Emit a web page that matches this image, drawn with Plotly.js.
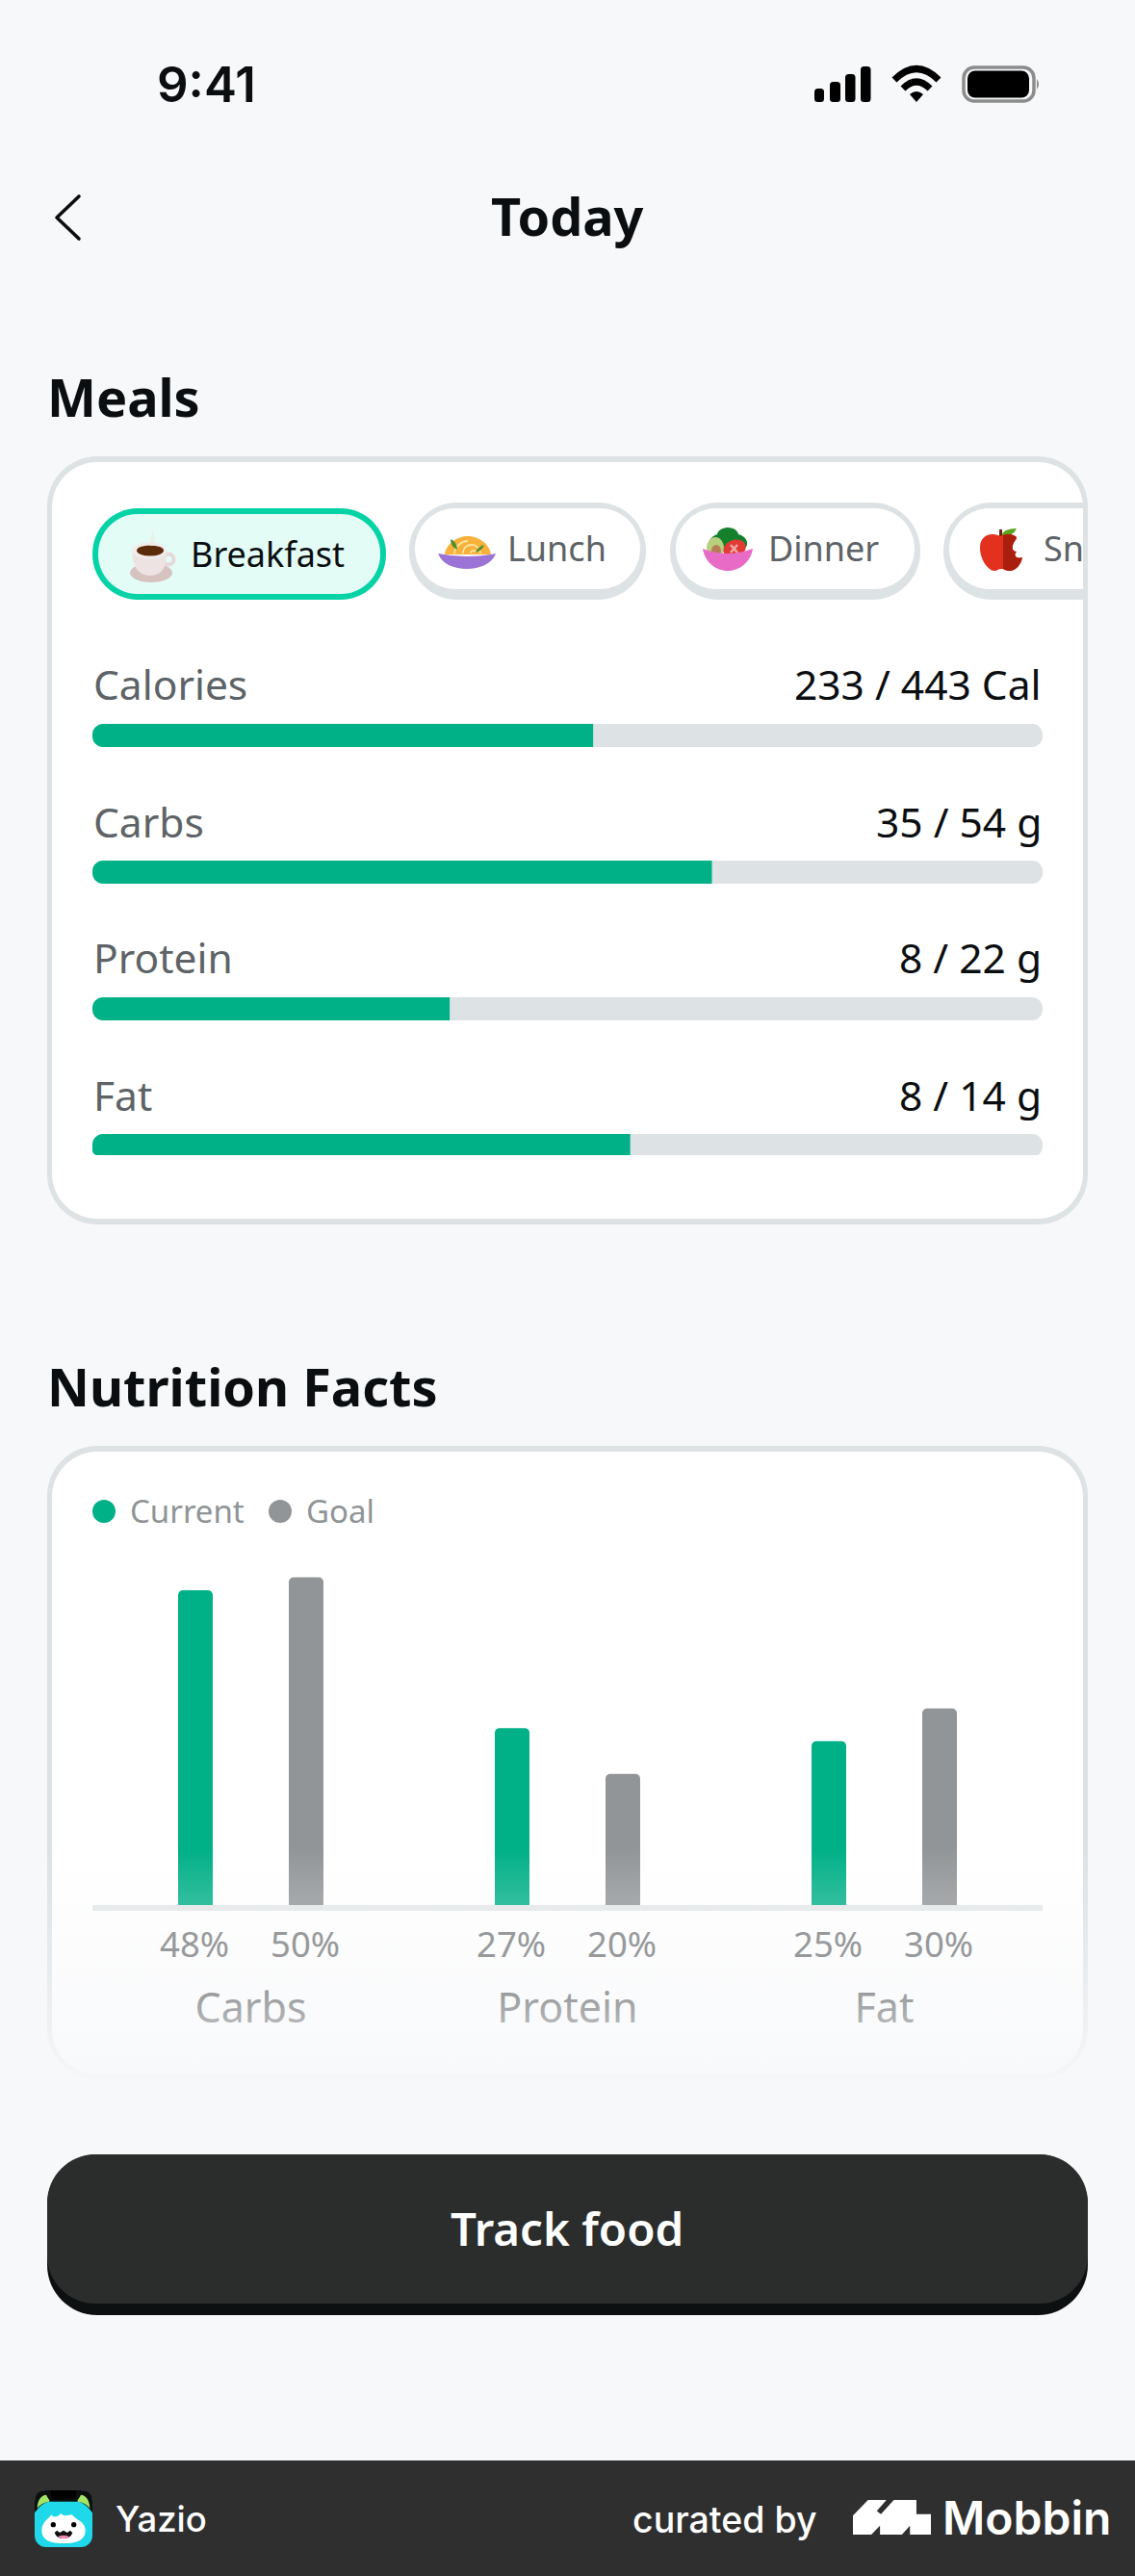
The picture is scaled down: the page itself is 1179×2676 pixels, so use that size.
<!DOCTYPE html>
<html><head><meta charset="utf-8">
<script src="https://cdn.plot.ly/plotly-3.0.1.min.js"></script>
<style>html,body{margin:0;padding:0;background:#f7f8fa}#c{width:1179px;height:2676px}</style>
</head><body><div id="c"></div>
<script>
// ---------- data ----------
const mealTabs = ['Breakfast', 'Lunch', 'Dinner', 'Sn'];
const mealRows = ['Calories', 'Carbs', 'Protein', 'Fat'];
const mealAmounts = ['233 / 443 Cal', '35 / 54 g', '8 / 22 g', '8 / 14 g'];
const mealProgress = [52.7, 65.2, 37.6, 56.6];
const mealTrack = [100, 100, 100, 100];
const nutritionCats = ['Carbs', 'Protein', 'Fat'];
const nutritionCurrent = [48, 27, 25];
const nutritionGoal = [50, 20, 30];
const seriesNames = ['Current', 'Goal'];

// ---------- page helpers ----------
const W = 1179, H = 2676;
const PAGE = '#f7f8fa', GREEN = '#00b087', GREY = '#929597', TRACK = '#dde2e4', INK = '#0b0e10', MUTED = '#5d6366';
const px = x => x / W, py = y => 1 - y / H;
const SANS = '"Noto Sans", sans-serif', INTER = 'Inter, sans-serif';
const p = (x, y) => px(x).toFixed(6) + ',' + py(y).toFixed(6);
const K = 0.45;

function rr(x0, y0, x1, y1, r, fill, layer) {
  const c = r * K;
  const path = `M${p(x0 + r, y0)} L${p(x1 - r, y0)} C${p(x1 - c, y0)} ${p(x1, y0 + c)} ${p(x1, y0 + r)} L${p(x1, y1 - r)} C${p(x1, y1 - c)} ${p(x1 - c, y1)} ${p(x1 - r, y1)} L${p(x0 + r, y1)} C${p(x0 + c, y1)} ${p(x0, y1 - c)} ${p(x0, y1 - r)} L${p(x0, y0 + r)} C${p(x0, y0 + c)} ${p(x0 + c, y0)} ${p(x0 + r, y0)} Z`;
  return {type: 'path', xref: 'paper', yref: 'paper', path, fillcolor: fill, line: {width: 0}, layer: layer || 'below'};
}
function leftPill(x0, y0, x1, y1, r, fill) {
  const c = r * K;
  const path = `M${p(x0 + r, y0)} L${p(x1, y0)} L${p(x1, y1)} L${p(x0 + r, y1)} C${p(x0 + c, y1)} ${p(x0, y1 - c)} ${p(x0, y1 - r)} L${p(x0, y0 + r)} C${p(x0, y0 + c)} ${p(x0 + c, y0)} ${p(x0 + r, y0)} Z`;
  return {type: 'path', xref: 'paper', yref: 'paper', path, fillcolor: fill, line: {width: 0}, layer: 'below'};
}
function corner(x, y, dy, r) { // white mask that rounds the flat start of a progress bar
  const c = r * K;
  const path = `M${p(x, y)} L${p(x + r, y)} C${p(x + c, y)} ${p(x, y + dy * c)} ${p(x, y + dy * r)} Z`;
  return {type: 'path', xref: 'paper', yref: 'paper', path, fillcolor: '#ffffff', line: {width: 0}, layer: 'above'};
}
function txt(text, x, y, size, color, anchor, weight, family) {
  return {text, xref: 'paper', yref: 'paper', x: px(x), y: py(y), showarrow: false, xanchor: anchor || 'left', yanchor: 'middle',
    borderpad: 0, font: {size, color, family: family || SANS, weight: weight || 400}};
}
function img(svg, x, y, w, h) {
  const doc = `<svg xmlns="http://www.w3.org/2000/svg" viewBox="${svg.vb}" preserveAspectRatio="none" width="${w}" height="${h}">${svg.body}</svg>`;
  return {source: 'data:image/svg+xml;charset=utf-8,' + encodeURIComponent(doc), xref: 'paper', yref: 'paper', x: px(x), y: py(y),
    sizex: w / W, sizey: h / H, xanchor: 'left', yanchor: 'top', sizing: 'stretch', layer: 'above'};
}

// ---------- icons ----------
const statusIcon = {vb: '830 55 270 65', body: `
  <g fill="#000"><rect x="846" y="92" width="10" height="14" rx="3.5"/><rect x="862" y="85" width="11" height="21" rx="3.5"/>
  <rect x="878" y="77" width="10.5" height="29" rx="3.5"/><rect x="894" y="69" width="10.5" height="37" rx="3.5"/></g>
  <g fill="none" stroke="#000" stroke-width="7"><path d="M929 83 Q952 60 975 83"/><path d="M938 92 Q952 78 966 92"/></g>
  <path d="M945 98 Q952 92 959 98 L952 106 Z" fill="#000"/>
  <rect x="1001" y="70" width="73" height="35" rx="11" fill="none" stroke="#8c8c8c" stroke-width="3.5"/>
  <rect x="1005" y="73.5" width="64" height="28" rx="8" fill="#000"/>
  <path d="M1077 82 Q1081 87.5 1077 93 Z" fill="#8c8c8c"/>`};
const chevron = {vb: '55 200 32 52', body: `<path d="M82 204 L59 226 L82 248" fill="none" stroke="${INK}" stroke-width="3.6" stroke-linecap="round" stroke-linejoin="round"/>`};
const coffee = {vb: '130 540 60 70', body: `
  <ellipse cx="157" cy="595" rx="22" ry="10" fill="#d6c3bf"/>
  <circle cx="175" cy="581" r="5.5" fill="none" stroke="#e6d8d8" stroke-width="4"/>
  <path d="M137 572 Q138 598 156 598 Q174 598 173 572 Z" fill="#eee3e3"/>
  <ellipse cx="155" cy="572" rx="18" ry="8.5" fill="#f3ecec"/>
  <ellipse cx="156" cy="572" rx="14" ry="5.5" fill="#5c2c0a"/>
  <path d="M159 549 L161 567 L155 567 Z" fill="#efe9e6" opacity=".7"/>`};
const noodles = {vb: '0 0 60 34', body: `
  <path d="M7 19 C8 8 20 0 31 0 C43 0 54 9 55 19 Z" fill="#f8b13a"/>
  <path d="M17 18 C18 10 25 5 31 5 M26 18 C26 12 30 9 35 9 C40 9 44 13 44 18 M34 18 C34 15 37 14 39 16" fill="none" stroke="#fde6a0" stroke-width="1.8"/>
  <path d="M13 3 Q20 6 20 14 Q13 11 13 3 Z M48 9 Q46 15 39 17 Q41 11 48 9 Z" fill="#4f8f2a"/>
  <path d="M0 18 Q30 24 60 18 C56 29 43 34 30 34 C17 34 4 29 0 18 Z" fill="#9b73d6"/>`};
const salad = {vb: '0 0 52 45', body: `
  <path d="M8 20 C4 12 12 8 15 7 C16 1 24 0 26 0 C30 0 36 2 37 7 C42 8 50 14 44 22 Z" fill="#15802c"/>
  <ellipse cx="13" cy="21" rx="9" ry="11" fill="#b8cf7e"/><ellipse cx="14" cy="24" rx="5" ry="6" fill="#b77d57"/>
  <ellipse cx="33" cy="22" rx="12" ry="9" fill="#e23a35" transform="rotate(-20 33 22)"/>
  <path d="M29 18 L36 26 M36 18 L29 26" stroke="#f5a5a0" stroke-width="2.6"/>
  <path d="M0 22 Q26 32 52 22 C50 36 38 45 26 45 C14 45 2 36 0 22 Z" fill="#e86bc6"/>`};
const apple = {vb: '0 0 45 45', body: `
  <path d="M22 9 Q24 1 38 1 Q35 9 22 9 Z" fill="#5aa51f"/><rect x="20" y="2" width="3" height="8" fill="#6b2413"/>
  <path d="M21 9 C10 4 0 9 0 21 C0 34 9 45 15 45 C18 45 19 43 22 43 C25 43 27 45 31 45 C37 45 43 38 44 31 C38 33 34 29 38 25 C34 25 32 21 35 16 C37 13 38 12 38 10 C32 5 26 7 21 9 Z" fill="#e2311f"/>
  <path d="M24 8 C30 6 34 7 38 10 C38 12 35 14 34 19 C33 23 35 25 38 25 C34 29 38 33 44 31 C43 38 37 45 31 45 C27 45 26 44 24 43 Z" fill="#a91e0c"/>`};
const yazioIcon = {vb: '0 0 180 177', body: `
  <rect width="180" height="177" rx="36" fill="#1fd8ea"/>
  <path d="M0 70 L0 36 Q0 0 36 0 L144 0 Q180 0 180 36 L180 70 Q160 40 135 35 L45 35 Q20 40 0 70 Z" fill="#0c0f0d"/>
  <path d="M8 56 C8 30 22 14 36 14 C44 30 50 32 44 36 C28 38 16 46 8 56 Z M172 56 C172 30 158 14 144 14 C136 30 130 32 136 36 C152 38 164 46 172 56 Z" fill="#a5e566"/>
  <path d="M50 0 L130 0 L128 28 L52 28 Z" fill="#000"/>
  <path d="M22 125 C22 100 40 92 52 76 C60 88 72 82 82 72 C92 84 104 76 116 76 C128 92 158 98 158 125 C158 155 132 165 90 165 C48 165 22 155 22 125 Z" fill="#fff"/>
  <circle cx="58" cy="107" r="8" fill="#000"/><circle cx="122" cy="107" r="8" fill="#000"/>
  <path d="M62 132 L70 125 L78 132 L90 125 L102 132 L110 125 L118 132 Q112 150 90 150 Q68 150 62 132 Z" fill="#111"/>
  <ellipse cx="90" cy="145" rx="16" ry="5" fill="#f58bb5"/>`};
const mobbinMark = {vb: '48 50 242 110', body: `<path d="M48 100 L95 50 L152 50 L122 85 L135 95 L175 50 L245 50 L245 95 L290 95 L290 160 L225 160 L225 132 L200 160 L132 160 L132 132 L105 160 L48 160 Z" fill="#fff"/>`};
const fadeStops = [[0, 0], [0.207, 0.2], [0.59, 0.6], [0.84, 0.9], [1, 1]];
const fade = {vb: '0 0 100 100', body: `<defs><linearGradient id="f" x1="0" y1="0" x2="0" y2="1">` +
  fadeStops.map(s => `<stop offset="${s[0]}" stop-color="${PAGE}" stop-opacity="${s[1]}"/>`).join('') +
  `</linearGradient></defs><rect width="100" height="100" fill="url(#f)"/>`};

// ---------- traces ----------
const traces = [
  {type: 'bar', orientation: 'h', y: mealRows, x: mealTrack, xaxis: 'x', yaxis: 'y', marker: {color: TRACK, cornerradius: 11}, hoverinfo: 'skip', showlegend: false},
  {type: 'bar', orientation: 'h', y: mealRows, x: mealProgress, xaxis: 'x', yaxis: 'y', marker: {color: GREEN, cornerradius: 11}, hoverinfo: 'skip', showlegend: false},
  {type: 'bar', name: seriesNames[0], x: nutritionCats, y: nutritionCurrent, xaxis: 'x2', yaxis: 'y2', marker: {color: GREEN, cornerradius: 5}, hoverinfo: 'skip', showlegend: false},
  {type: 'bar', name: seriesNames[1], x: nutritionCats, y: nutritionGoal, xaxis: 'x2', yaxis: 'y2', marker: {color: GREY, cornerradius: 5}, hoverinfo: 'skip', showlegend: false}
];

// ---------- shapes ----------
const shapes = [
  rr(49, 474, 1130, 1272, 52, TRACK), rr(54, 480, 1125, 1266, 47, '#ffffff'),
  rr(49, 1502, 1130, 2160, 52, TRACK), rr(54, 1508, 1125, 2155, 47, '#ffffff'),
  rr(96, 528, 401, 623, 47, '#05d3a6'), rr(102, 534, 395, 617, 41, '#e3fcf6'),
  rr(425, 522, 671, 623, 50, TRACK), rr(431, 528, 665, 612, 42, '#ffffff'),
  rr(696, 522, 956, 623, 50, TRACK), rr(702, 528, 950, 612, 42, '#ffffff'),
  leftPill(980, 522, 1125, 623, 50, TRACK), leftPill(986, 528, 1125, 612, 42, '#ffffff'),
  rr(49, 2238, 1130, 2405, 52, '#0d1010'), rr(49, 2238, 1130, 2393, 50, '#2b2d2d'),
  {type: 'rect', xref: 'paper', yref: 'paper', x0: 0, x1: 1, y0: 0, y1: py(2556), fillcolor: '#2f2f2f', line: {width: 0}, layer: 'below'},
  {type: 'circle', xref: 'paper', yref: 'paper', x0: px(96), x1: px(120), y0: py(1582), y1: py(1558), fillcolor: GREEN, line: {width: 0}, layer: 'below'},
  {type: 'circle', xref: 'paper', yref: 'paper', x0: px(279), x1: px(303), y0: py(1582), y1: py(1558), fillcolor: GREY, line: {width: 0}, layer: 'below'},
  {type: 'rect', xref: 'paper', yref: 'paper', x0: px(96), x1: px(1083), y0: py(1203), y1: py(1200), fillcolor: '#ffffff', line: {width: 0}, layer: 'above'}
];
[752, 894, 1036, 1178].forEach(t => {
  shapes.push(corner(96, t, 1, 11));
  shapes.push(t === 1178 ? corner(96, t + 22, -1, 5) : corner(96, t + 24, -1, 11));
});

// ---------- annotations ----------
const tabX = [197, 526, 797, 1083], tabY = [576, 569, 569, 569], tabColor = [INK, MUTED, MUTED, MUTED];
const rowY = [711, 853, 995, 1137];
const annotations = [
  txt('9:41', 214, 87, 51, INK, 'center', 600, INTER),
  txt('Today', 589, 224, 54, INK, 'center', 700),
  txt('Meals', 48, 412, 54, INK, 'left', 700),
  txt('Nutrition Facts', 48, 1440, 54, INK, 'left', 700),
  txt('Track food', 589, 2314, 47.5, '#ffffff', 'center', 600),
  txt('Yazio', 119, 2617, 36.5, '#ffffff', 'left', 500, INTER),
  txt('curated by', 849, 2617, 37.5, '#ffffff', 'right', 500, INTER),
  txt('Mobbin', 978, 2615, 48, '#ffffff', 'left', 600, INTER),
  txt(seriesNames[0], 134, 1569.5, 33, '#8f9496', 'left'),
  txt(seriesNames[1], 317, 1569.5, 33, '#8f9496', 'left')
];
mealTabs.forEach((t, i) => annotations.push(txt(t, tabX[i], tabY[i], 36, tabColor[i], 'left')));
mealRows.forEach((t, i) => {
  annotations.push(txt(t, 96, rowY[i], 42.5, MUTED, 'left'));
  annotations.push(txt(mealAmounts[i], 1083, rowY[i], 42.5, INK, 'right'));
});
nutritionCats.forEach((c, i) => {
  [[nutritionCurrent, -57.5], [nutritionGoal, 57.5]].forEach(([s, dx]) => {
    annotations.push({text: s[i] + '%', xref: 'x2', yref: 'paper', x: c, y: py(2019), xshift: dx - 1.5, showarrow: false, yanchor: 'middle',
      font: {size: 36.5, color: '#97999b', family: SANS}});
  });
});

// ---------- images ----------
const images = [
  img(statusIcon, 830, 55, 270, 65), img(chevron, 55, 200, 32, 52),
  img(coffee, 130, 540, 60, 70), img(noodles, 455, 557, 60, 34),
  img(salad, 730, 548, 52, 45), img(apple, 1018, 548, 45, 45),
  img(yazioIcon, 36, 2587, 60, 59), img(mobbinMark, 886, 2597, 81, 36),
  img(fade, 0, 1920, 1179, 280)
];

// ---------- layout ----------
const layout = {
  width: W, height: H, margin: {l: 0, r: 0, t: 0, b: 0}, paper_bgcolor: PAGE, plot_bgcolor: 'rgba(0,0,0,0)',
  barmode: 'group', bargap: 0.301, bargroupgap: 0.687, showlegend: false,
  xaxis: {domain: [px(96), px(1083)], range: [0, 100], visible: false, fixedrange: true, anchor: 'y'},
  yaxis: {domain: [py(1261), py(693)], type: 'category', range: [3.5, -0.5], visible: false, fixedrange: true, anchor: 'x'},
  xaxis2: {domain: [px(96), px(1083)], anchor: 'y2', type: 'category', showline: true, linecolor: '#e3e7e8', linewidth: 6,
    showgrid: false, ticks: '', tickfont: {size: 43, color: '#2a2d2f', family: SANS}, ticklabelstandoff: 64, fixedrange: true},
  yaxis2: {domain: [py(1979), py(1979 - 60 * 6.81)], anchor: 'x2', range: [0, 60], visible: false, fixedrange: true},
  shapes, annotations, images
};
// the horizontal bars overlay their track; nutrition bars stay grouped through offset groups
traces[0].offsetgroup = 'm'; traces[1].offsetgroup = 'm';
traces[0].width = 24 / 142; traces[1].width = 24 / 142;
Plotly.newPlot('c', traces, layout, {displayModeBar: false, staticPlot: true});
</script></body></html>
